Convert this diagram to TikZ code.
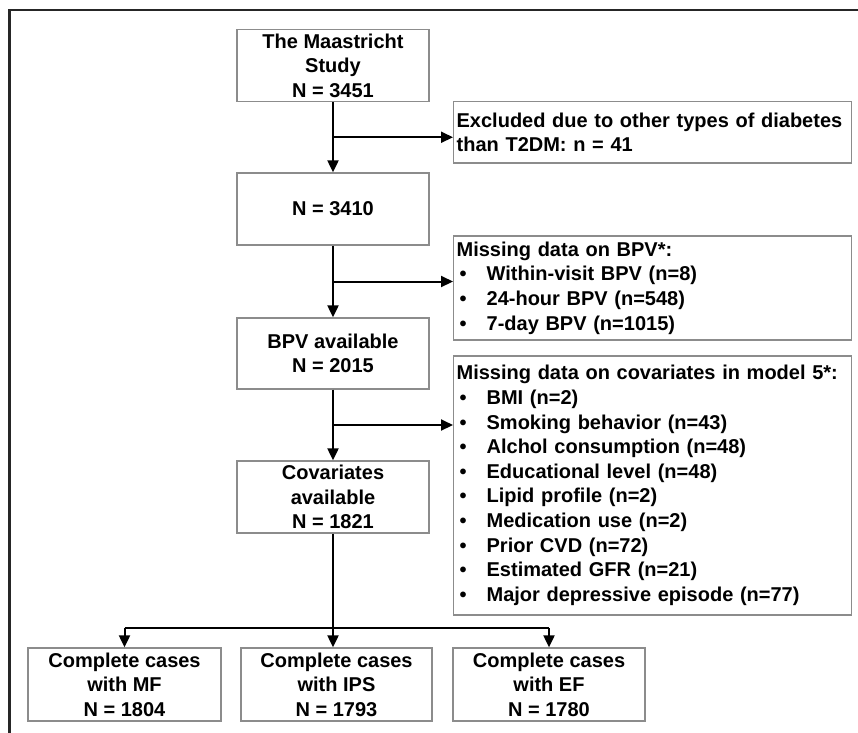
\documentclass[tikz,border=0pt]{standalone}
\usepackage{fontspec}
\setmainfont{Liberation Sans}
\usetikzlibrary{calc}
\usetikzlibrary{positioning}
\usetikzlibrary{arrows.meta}
\newcommand{\itm}[1]{\makebox[30pt][l]{\hspace{3pt}\textbullet}#1}
\newcommand{\nohyph}{\hyphenpenalty=10000\relax}
\tikzset{
	>={Triangle[length=12pt,width=11pt]},
	stepbox/.style={
		rectangle,
		draw=black!45, line width=1.3pt,
		minimum width=192pt,
		minimum height=72pt,
		inner sep=2pt,
		align=center},
	notebox/.style={
		rectangle,
		draw=black!45, line width=1.3pt,
		anchor=west,
		text width=392pt,
		inner xsep=3pt,
		inner ysep=2pt,
		align=left},
	line/.style={draw, line width=2pt, ->},
	frame/.style={draw, line width=2.2pt, black!85},
}

\begin{document}
\begin{tikzpicture}
	[x=1pt, y=-1pt, font=\fontsize{20}{24.6}\selectfont\bfseries\nohyph]
	\useasboundingbox[fill=white] (0,0) rectangle (858,732);
	\clip (0,0) rectangle (858,732);
	\draw[frame] (9.5,10) rectangle (900,780);
	% main column
	\node[stepbox] (study) at (333,65.5) {The Maastricht\\Study\\N = 3451};
	\node[stepbox] (all) at (333,209) {N = 3410};
	\node[stepbox, minimum height=71pt] (bpv) at (333,353.5) {BPV available\\N = 2015};
	\node[stepbox] (cov) at (333,497) {Covariates\\available\\N = 1821};
	% exclusions
	\node[notebox, minimum height=61.5pt] (excl) at (453,132.2) {\mbox{Excluded due to other types of diabetes}\\than T2DM: n = 41};
	\node[notebox, minimum height=104pt] (missbpv) at (453,288) {Missing data on BPV*:\\
		\itm{Within-visit BPV (n=8)}\\
		\itm{24-hour BPV (n=548)}\\
		\itm{7-day BPV (n=1015)}};
	\node[notebox, minimum height=259pt] (misscov) at (453,485.5) {Missing data on covariates in model 5*:\\
		\itm{BMI (n=2)}\\
		\itm{Smoking behavior (n=43)}\\
		\itm{Alchol consumption (n=48)}\\
		\itm{Educational level (n=48)}\\
		\itm{Lipid profile (n=2)}\\
		\itm{Medication use (n=2)}\\
		\itm{Prior CVD (n=72)}\\
		\itm{Estimated GFR (n=21)}\\
		\itm{Major depressive episode (n=77)}};
	% complete cases
	\node[stepbox, minimum width=193pt, minimum height=73pt] (mf) at (124.5,684.5) {Complete cases\\with MF\\N = 1804};
	\node[stepbox, minimum width=191pt, minimum height=73pt] (ips) at (336.5,684.5) {Complete cases\\with IPS\\N = 1793};
	\node[stepbox, minimum height=73pt] (ef) at (549,684.5) {Complete cases\\with EF\\N = 1780};
	% connectors
	\draw[line] (study) -- (all);
	\draw[line] (all) -- (bpv);
	\draw[line] (bpv) -- (cov);
	\coordinate (b1) at ($(study.south)!.5!(all.north)$);
	\coordinate (b2) at ($(all.south)!.5!(bpv.north)$);
	\coordinate (b3) at ($(bpv.south)!.5!(cov.north)$);
	\draw[line] (b1) -- (b1 -| excl.west);
	\draw[line] (b2) -- (b2 -| missbpv.west);
	\draw[line] (b3) -- (b3 -| misscov.west);
	\coordinate (fork) at ($(cov.south |- ips.north)+(0,19pt)$);
	\draw[line] (cov.south) -- (cov.south |- ips.north);
	\draw[line width=2pt] (fork -| mf.north) -- (fork -| ef.north);
	\draw[line] (fork -| mf.north) -- (mf.north);
	\draw[line] (fork -| ef.north) -- (ef.north);
\end{tikzpicture}
\end{document}
